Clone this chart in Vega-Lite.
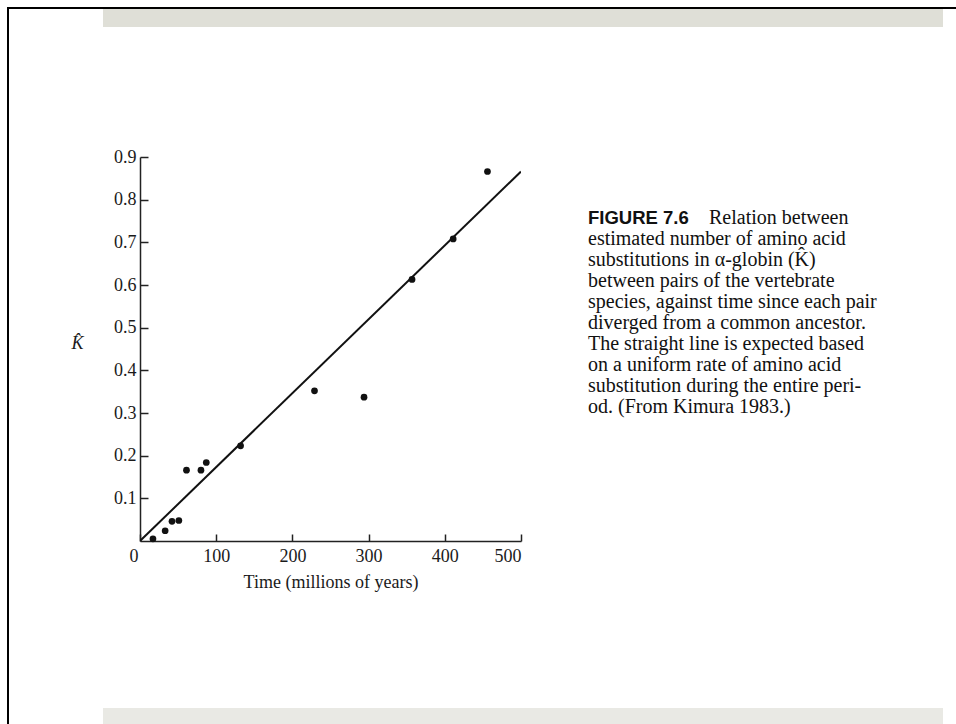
{
  "$schema": "https://vega.github.io/schema/vega-lite/v6.json",
  "background": "white",
  "padding": {"left": 7, "top": 7, "right": 0, "bottom": 0},
  "bounds": "flush",
  "align": "each",
  "spacing": 0,
  "columns": 7,
  "config": {
    "view": {"stroke": null},
    "axis": {
      "labelFont": "Liberation Serif",
      "labelFontSize": 18,
      "labelColor": "#1a1a1a",
      "titleFont": "Liberation Serif",
      "titleFontSize": 18,
      "titleFontWeight": "normal",
      "titleColor": "#1a1a1a",
      "domainColor": "#222222",
      "domainWidth": 1.5,
      "tickColor": "#222222",
      "tickWidth": 1.5
    }
  },
  "datasets": {
    "points": [
      {"t": 17, "k": 0.005}, {"t": 33, "k": 0.024}, {"t": 42, "k": 0.046}, {"t": 51, "k": 0.048},
      {"t": 61, "k": 0.166}, {"t": 80, "k": 0.166}, {"t": 87, "k": 0.184}, {"t": 132, "k": 0.223},
      {"t": 229, "k": 0.352}, {"t": 294, "k": 0.337}, {"t": 357, "k": 0.613}, {"t": 411, "k": 0.708},
      {"t": 456, "k": 0.866}
    ],
    "expected": [{"t": 0, "k": 0}, {"t": 500, "k": 0.866}],
    "caption": [
      {"i": 1, "part": "head", "text": "FIGURE 7.6"},
      {"i": 1, "part": "rest", "text": "Relation between"},
      {"i": 2, "part": "body", "text": "estimated number of amino acid"},
      {"i": 3, "part": "body", "text": "substitutions in α-globin (K̂)"},
      {"i": 4, "part": "body", "text": "between pairs of the vertebrate"},
      {"i": 5, "part": "body", "text": "species, against time since each pair"},
      {"i": 6, "part": "body", "text": "diverged from a common ancestor."},
      {"i": 7, "part": "body", "text": "The straight line is expected based"},
      {"i": 8, "part": "body", "text": "on a uniform rate of amino acid"},
      {"i": 9, "part": "body", "text": "substitution during the entire peri-"},
      {"i": 10, "part": "body", "text": "od. (From Kimura 1983.)"}
    ],
    "blank": [{}]
  },
  "concat": [
    {"width": 2, "height": 2, "view": {"fill": "#000000"}, "data": {"name": "blank"}, "mark": {"type": "text", "fontSize": 0}, "encoding": {"text": {"value": ""}}},
    {"width": 94, "height": 2, "view": {"fill": "#000000"}, "data": {"name": "blank"}, "mark": {"type": "text", "fontSize": 0}, "encoding": {"text": {"value": ""}}},
    {"width": 37, "height": 2, "view": {"fill": "#000000"}, "data": {"name": "blank"}, "mark": {"type": "text", "fontSize": 0}, "encoding": {"text": {"value": ""}}},
    {"width": 381, "height": 2, "view": {"fill": "#000000"}, "data": {"name": "blank"}, "mark": {"type": "text", "fontSize": 0}, "encoding": {"text": {"value": ""}}},
    {"width": 67, "height": 2, "view": {"fill": "#000000"}, "data": {"name": "blank"}, "mark": {"type": "text", "fontSize": 0}, "encoding": {"text": {"value": ""}}},
    {"width": 355, "height": 2, "view": {"fill": "#000000"}, "data": {"name": "blank"}, "mark": {"type": "text", "fontSize": 0}, "encoding": {"text": {"value": ""}}},
    {"width": 13, "height": 2, "view": {"fill": "#000000"}, "data": {"name": "blank"}, "mark": {"type": "text", "fontSize": 0}, "encoding": {"text": {"value": ""}}},

    {"width": 2, "height": 18, "view": {"fill": "#000000"}, "data": {"name": "blank"}, "mark": {"type": "text", "fontSize": 0}, "encoding": {"text": {"value": ""}}},
    {"width": 94, "height": 18, "data": {"name": "blank"}, "mark": {"type": "text", "fontSize": 0}, "encoding": {"text": {"value": ""}}},
    {"width": 37, "height": 18, "view": {"fill": "#dfdfd7"}, "data": {"name": "blank"}, "mark": {"type": "text", "fontSize": 0}, "encoding": {"text": {"value": ""}}},
    {"width": 381, "height": 18, "view": {"fill": "#dfdfd7"}, "data": {"name": "blank"}, "mark": {"type": "text", "fontSize": 0}, "encoding": {"text": {"value": ""}}},
    {"width": 67, "height": 18, "view": {"fill": "#dfdfd7"}, "data": {"name": "blank"}, "mark": {"type": "text", "fontSize": 0}, "encoding": {"text": {"value": ""}}},
    {"width": 355, "height": 18, "view": {"fill": "#dfdfd7"}, "data": {"name": "blank"}, "mark": {"type": "text", "fontSize": 0}, "encoding": {"text": {"value": ""}}},
    {"width": 13, "height": 18, "data": {"name": "blank"}, "mark": {"type": "text", "fontSize": 0}, "encoding": {"text": {"value": ""}}},

    {"width": 2, "height": 130, "view": {"fill": "#000000"}, "data": {"name": "blank"}, "mark": {"type": "text", "fontSize": 0}, "encoding": {"text": {"value": ""}}},
    {"width": 94, "height": 130, "data": {"name": "blank"}, "mark": {"type": "text", "fontSize": 0}, "encoding": {"text": {"value": ""}}},
    {"width": 37, "height": 130, "data": {"name": "blank"}, "mark": {"type": "text", "fontSize": 0}, "encoding": {"text": {"value": ""}}},
    {"width": 381, "height": 130, "data": {"name": "blank"}, "mark": {"type": "text", "fontSize": 0}, "encoding": {"text": {"value": ""}}},
    {"width": 67, "height": 130, "data": {"name": "blank"}, "mark": {"type": "text", "fontSize": 0}, "encoding": {"text": {"value": ""}}},
    {"width": 355, "height": 130, "data": {"name": "blank"}, "mark": {"type": "text", "fontSize": 0}, "encoding": {"text": {"value": ""}}},
    {"width": 13, "height": 130, "data": {"name": "blank"}, "mark": {"type": "text", "fontSize": 0}, "encoding": {"text": {"value": ""}}},

    {"width": 2, "height": 384, "view": {"fill": "#000000"}, "data": {"name": "blank"}, "mark": {"type": "text", "fontSize": 0}, "encoding": {"text": {"value": ""}}},
    {"width": 94, "height": 384, "data": {"name": "blank"}, "mark": {"type": "text", "fontSize": 0}, "encoding": {"text": {"value": ""}}},
    {"width": 37, "height": 384, "data": {"name": "blank"}, "mark": {"type": "text", "fontSize": 0}, "encoding": {"text": {"value": ""}}},
    {
      "width": 381,
      "height": 384,
      "layer": [
        {
          "data": {"name": "expected"},
          "mark": {"type": "line", "color": "#111111", "strokeWidth": 2, "clip": true},
          "encoding": {
            "x": {"field": "t", "type": "quantitative"},
            "y": {"field": "k", "type": "quantitative"}
          }
        },
        {
          "data": {"name": "points"},
          "mark": {"type": "circle", "color": "#111111", "size": 45, "opacity": 1},
          "encoding": {
            "x": {
              "field": "t", "type": "quantitative",
              "scale": {"domain": [0, 500], "nice": false},
              "axis": {
                "title": "Time (millions of years)",
                "values": [0, 100, 200, 300, 400, 500],
                "grid": false,
                "tickSize": -7,
                "labelPadding": 13,
                "labelOffset": {"condition": {"test": "datum.value === 0", "value": -11}, "value": 0},
                "titlePadding": 8
              }
            },
            "y": {
              "field": "k", "type": "quantitative",
              "scale": {"domain": [0, 0.9], "nice": false},
              "axis": {
                "title": "K̂",
                "values": [0.1, 0.2, 0.3, 0.4, 0.5, 0.6, 0.7, 0.8, 0.9],
                "format": ".1f",
                "grid": false,
                "tickSize": -8,
                "labelPadding": 12,
                "titleAngle": 0,
                "titleX": -63,
                "titleY": 186,
                "titleAlign": "center",
                "titleBaseline": "middle",
                "titleFontStyle": "italic"
              }
            }
          }
        }
      ]
    },
    {"width": 67, "height": 384, "data": {"name": "blank"}, "mark": {"type": "text", "fontSize": 0}, "encoding": {"text": {"value": ""}}},
    {
      "width": 355,
      "height": 384,
      "data": {"name": "caption"},
      "encoding": {
        "y": {"field": "i", "type": "quantitative", "axis": null, "scale": {"domain": [-2.19, 16.095], "reverse": true, "nice": false, "zero": false}},
        "x": {"value": 0},
        "text": {"field": "text"}
      },
      "layer": [
        {
          "transform": [{"filter": "datum.part === 'head'"}],
          "mark": {"type": "text", "align": "left", "baseline": "alphabetic", "font": "Liberation Sans", "fontWeight": "bold", "fontSize": 18.5, "color": "#111111"}
        },
        {
          "transform": [{"filter": "datum.part === 'rest'"}],
          "mark": {"type": "text", "align": "left", "baseline": "alphabetic", "dx": 121, "font": "Liberation Serif", "fontSize": 20, "color": "#111111"}
        },
        {
          "transform": [{"filter": "datum.part === 'body'"}],
          "mark": {"type": "text", "align": "left", "baseline": "alphabetic", "font": "Liberation Serif", "fontSize": 20, "color": "#111111"}
        }
      ]
    },
    {"width": 13, "height": 384, "data": {"name": "blank"}, "mark": {"type": "text", "fontSize": 0}, "encoding": {"text": {"value": ""}}},

    {"width": 2, "height": 167, "view": {"fill": "#000000"}, "data": {"name": "blank"}, "mark": {"type": "text", "fontSize": 0}, "encoding": {"text": {"value": ""}}},
    {"width": 94, "height": 167, "data": {"name": "blank"}, "mark": {"type": "text", "fontSize": 0}, "encoding": {"text": {"value": ""}}},
    {"width": 37, "height": 167, "data": {"name": "blank"}, "mark": {"type": "text", "fontSize": 0}, "encoding": {"text": {"value": ""}}},
    {"width": 381, "height": 167, "data": {"name": "blank"}, "mark": {"type": "text", "fontSize": 0}, "encoding": {"text": {"value": ""}}},
    {"width": 67, "height": 167, "data": {"name": "blank"}, "mark": {"type": "text", "fontSize": 0}, "encoding": {"text": {"value": ""}}},
    {"width": 355, "height": 167, "data": {"name": "blank"}, "mark": {"type": "text", "fontSize": 0}, "encoding": {"text": {"value": ""}}},
    {"width": 13, "height": 167, "data": {"name": "blank"}, "mark": {"type": "text", "fontSize": 0}, "encoding": {"text": {"value": ""}}},

    {"width": 2, "height": 16, "view": {"fill": "#000000"}, "data": {"name": "blank"}, "mark": {"type": "text", "fontSize": 0}, "encoding": {"text": {"value": ""}}},
    {"width": 94, "height": 16, "data": {"name": "blank"}, "mark": {"type": "text", "fontSize": 0}, "encoding": {"text": {"value": ""}}},
    {"width": 37, "height": 16, "view": {"fill": "#e9e9e4"}, "data": {"name": "blank"}, "mark": {"type": "text", "fontSize": 0}, "encoding": {"text": {"value": ""}}},
    {"width": 381, "height": 16, "view": {"fill": "#e9e9e4"}, "data": {"name": "blank"}, "mark": {"type": "text", "fontSize": 0}, "encoding": {"text": {"value": ""}}},
    {"width": 67, "height": 16, "view": {"fill": "#e9e9e4"}, "data": {"name": "blank"}, "mark": {"type": "text", "fontSize": 0}, "encoding": {"text": {"value": ""}}},
    {"width": 355, "height": 16, "view": {"fill": "#e9e9e4"}, "data": {"name": "blank"}, "mark": {"type": "text", "fontSize": 0}, "encoding": {"text": {"value": ""}}},
    {"width": 13, "height": 16, "data": {"name": "blank"}, "mark": {"type": "text", "fontSize": 0}, "encoding": {"text": {"value": ""}}}
  ],
  "resolve": {"scale": {"y": "independent", "x": "independent"}}
}
